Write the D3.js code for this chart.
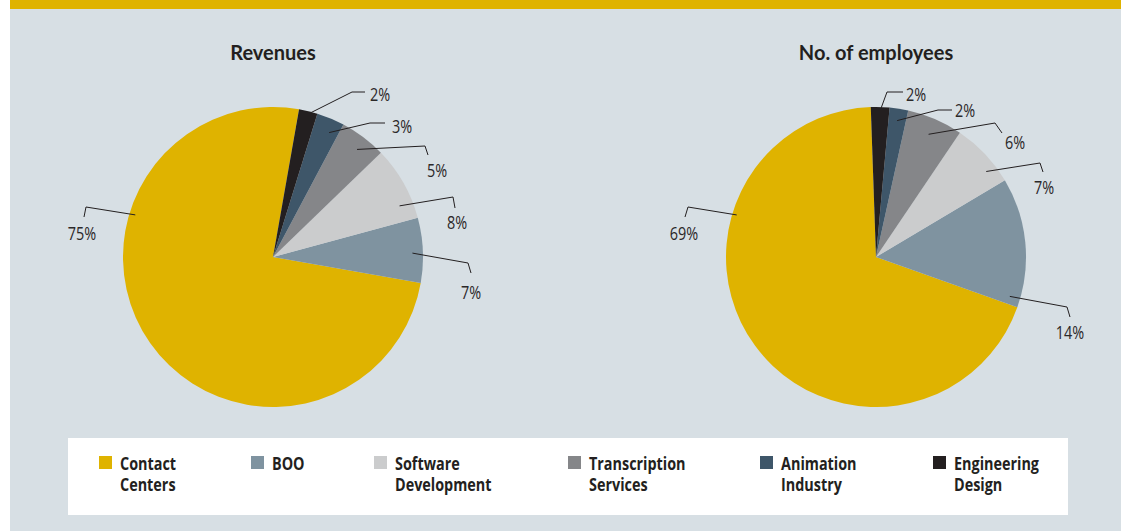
<!DOCTYPE html>
<html>
<head>
    <title>Revenues and employees</title>
    <script src="https://cdn.jsdelivr.net/npm/d3@7/dist/d3.min.js"></script>
    <style>
        body {
            margin: 0;
            background: #ffffff;
        }
        svg {
            display: block;
        }
        .title {
            font-family: Lato, "Open Sans", sans-serif;
            font-weight: bold;
            font-size: 20px;
            fill: #231f20;
        }
        .pct {
            font-family: "Open Sans", sans-serif;
            font-weight: normal;
            font-size: 19px;
            fill: #2b2829;
        }
        .legend text {
            font-family: "Open Sans", sans-serif;
            font-weight: bold;
            font-size: 18px;
            fill: #231f20;
        }
    </style>
</head>
<body>
<script>
    // data
    var categories = ["Contact Centers", "BOO", "Software Development", "Transcription Services", "Animation Industry", "Engineering Design"];
    var legendLines = [["Contact", "Centers"], ["BOO"], ["Software", "Development"], ["Transcription", "Services"], ["Animation", "Industry"], ["Engineering", "Design"]];
    var revenues = [75, 7, 8, 5, 3, 2];
    var employees = [69, 14, 7, 6, 2, 2];
    var colors = ["#dfb300", "#7f93a0", "#cbcccd", "#858689", "#3e5669", "#231f20"];

    var W = 1121, H = 531, R = 150;
    var narrow = 0.76, legendNarrow = 0.8;

    var svg = d3.select("body").append("svg")
            .attr("width", W)
            .attr("height", H);

    svg.append("rect").attr("x", 10).attr("y", 0).attr("width", W - 10).attr("height", H).attr("fill", "#d7dfe4");
    svg.append("rect").attr("x", 10).attr("y", 0).attr("width", W - 10).attr("height", 9).attr("fill", "#dfb300");

    var color = d3.scaleOrdinal().domain(categories).range(colors);
    var arc = d3.arc().innerRadius(0).outerRadius(R);
    var rad = Math.PI / 180;

    // leader layout per slice: angle nudge (deg), radius fraction, kink, end of leader, text anchor point
    var revLayout = [
        {nudge: 52, r: 0.96, k: [-187, -50], e: [-189, -40], t: [-191, -17], a: "middle"},
        {nudge: 1, r: 0.93, k: [195, 6], e: [198, 16], t: [198, 42], a: "middle"},
        {nudge: 7.6, r: 0.91, k: [180, -60], e: [182, -49], t: [184, -28], a: "middle"},
        {nudge: 1, r: 0.91, k: [152, -111], e: [155, -102], t: [164, -80], a: "middle"},
        {nudge: 1.7, r: 0.91, k: [97, -134], e: [112, -134], t: [119, -124], a: "start"},
        {nudge: 0.8, r: 0.99, k: [79, -165], e: [92, -165], t: [97, -156], a: "start"}
    ];
    var empLayout = [
        {nudge: 53, r: 0.97, k: [-188, -50], e: [-191, -40], t: [-192, -17], a: "middle"},
        {nudge: 22, r: 0.93, k: [191, 50], e: [194, 60], t: [194, 82], a: "middle"},
        {nudge: 5.6, r: 0.93, k: [164, -94], e: [167, -85], t: [168, -63], a: "middle"},
        {nudge: 0, r: 0.89, k: [119, -134], e: [126, -124], t: [139, -108], a: "middle"},
        {nudge: 0, r: 0.92, k: [62, -147], e: [76, -147], t: [79, -140], a: "start"},
        {nudge: 0.3, r: 0.99, k: [11, -165], e: [27, -165], t: [30, -156], a: "start"}
    ];

    function drawPie(cx, cy, title, values, startDeg, layout) {
        // slices run counter-clockwise from the start angle in legend order
        var pie = d3.pie().sort(null)
                .startAngle((startDeg + 360) * rad)
                .endAngle(startDeg * rad);
        var arcs = pie(values);

        var g = svg.append("g").attr("transform", "translate(" + cx + "," + cy + ")");

        svg.append("text").attr("class", "title")
                .attr("x", cx).attr("y", 60)
                .attr("text-anchor", "middle")
                .text(title);

        g.selectAll("path.slice").data(arcs).enter()
                .append("path").attr("class", "slice")
                .attr("d", arc)
                .attr("fill", function (d, i) { return color(categories[i]); });

        var lab = g.selectAll("g.lab").data(arcs).enter()
                .append("g").attr("class", "lab");

        lab.append("polyline")
                .attr("fill", "none")
                .attr("stroke", "#231f20")
                .attr("stroke-width", 1)
                .attr("points", function (d, i) {
                    var L = layout[i];
                    var mid = (d.startAngle + d.endAngle) / 2 + L.nudge * rad;
                    var p = [Math.sin(mid) * R * L.r, -Math.cos(mid) * R * L.r];
                    return [p, L.k, L.e].map(function (q) { return q.join(","); }).join(" ");
                });

        lab.append("text").attr("class", "pct")
                .attr("transform", function (d, i) {
                    return "translate(" + layout[i].t[0] + "," + layout[i].t[1] + ") scale(" + narrow + ",1)";
                })
                .attr("text-anchor", function (d, i) { return layout[i].a; })
                .text(function (d) { return d.data + "%"; });
    }

    drawPie(273, 257, "Revenues", revenues, 10, revLayout);
    drawPie(876, 257, "No. of employees", employees, -2, empLayout);

    // legend
    var legendX = [99, 251, 374, 568, 760, 933];
    var legend = svg.append("g").attr("class", "legend");
    legend.append("rect")
            .attr("x", 68).attr("y", 438)
            .attr("width", 1000).attr("height", 77)
            .attr("fill", "#ffffff");

    var item = legend.selectAll("g.item").data(categories).enter()
            .append("g").attr("class", "item")
            .attr("transform", function (d, i) { return "translate(" + legendX[i] + ",456)"; });

    item.append("rect")
            .attr("width", 13).attr("height", 13)
            .attr("fill", function (d) { return color(d); });

    // one text per line so each row stands on its own
    item.selectAll("text")
            .data(function (d, i) { return legendLines[i]; })
            .enter().append("text")
            .attr("transform", function (d, j) {
                return "translate(21," + (14 + j * 21) + ") scale(" + legendNarrow + ",1)";
            })
            .text(function (d) { return d; });
</script>
</body>
</html>
